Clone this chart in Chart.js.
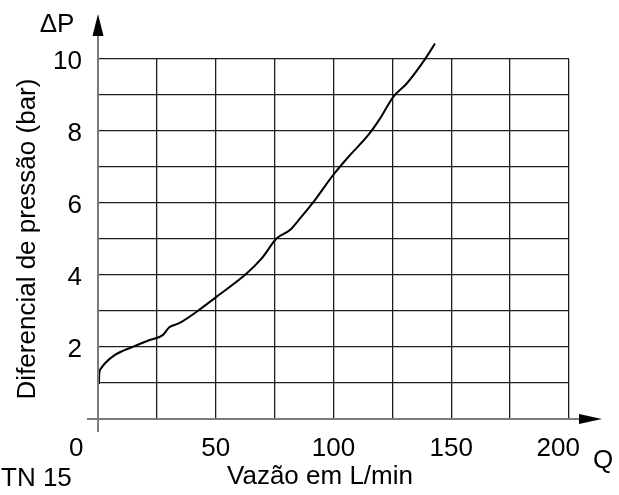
<!DOCTYPE html>
<html>
<head>
<meta charset="utf-8">
<title>Diferencial de pressão x Vazão</title>
<script src="https://cdn.jsdelivr.net/npm/chart.js@4/dist/chart.umd.min.js"></script>
<style>
  html, body { margin: 0; padding: 0; background: #fff; }
  #chartPressure { display: block; }
</style>
</head>
<body>
<canvas id="chartPressure" width="619" height="495"></canvas>
<script>
// Curve: flow (L/min) vs pressure drop (bar)
const flowValues = [0.4, 0.5, 1.2, 3.0, 7.2, 15.0, 21.4, 27.5, 30.3, 33.7, 35.5, 41.9, 50.4,
  63.1, 69.5, 75.9, 81.5, 85.8, 92.1, 99.9, 107.0, 114.8, 119.6, 125.4, 131.1, 138.8, 143.1];
const pressureValues = [0.97, 1.22, 1.40, 1.55, 1.78, 2.01, 2.18, 2.33, 2.55, 2.64, 2.70, 2.98, 3.40,
  4.04, 4.46, 5.02, 5.25, 5.57, 6.08, 6.78, 7.33, 7.89, 8.33, 8.95, 9.32, 9.99, 10.43];

const xTickLabels = [0, 50, 100, 150, 200];
const yTickLabels = [2, 4, 6, 8, 10];

const FONT = { family: '"Liberation Sans", Arial, Helvetica, sans-serif', size: 26 };
const GRID_COLOR = '#1e1e1e';
const AXIS_COLOR = '#7a7a7a';

// the sheet nudges the end labels left of their grid lines (trailing spaces do it)
function xLabel(v) {
  if (!xTickLabels.includes(v)) return '';
  if (v === 0) return '0      ';
  if (v === 200) return '200   ';
  return String(v);
}

// Axes with arrowheads + the loose labels (ΔP, Q, TN 15, x title)
const sheetDecor = {
  id: 'sheetDecor',
  afterDatasetsDraw(chart) {
    const { ctx, scales: { x, y } } = chart;
    const x0 = x.getPixelForValue(0);
    const y0 = y.getPixelForValue(0);
    const xEnd = x.getPixelForValue(200);

    ctx.save();
    ctx.strokeStyle = AXIS_COLOR;
    ctx.fillStyle = '#000';
    ctx.lineWidth = 2;

    ctx.beginPath();
    ctx.moveTo(x0, y0 + 13);
    ctx.lineTo(x0, 30);
    ctx.moveTo(x0 - 11, y0);
    ctx.lineTo(xEnd + 14, y0);
    ctx.stroke();

    // arrow heads
    ctx.beginPath();
    ctx.moveTo(x0, 14);
    ctx.lineTo(x0 - 5.5, 36);
    ctx.lineTo(x0 + 5.5, 36);
    ctx.closePath();
    ctx.fill();
    ctx.beginPath();
    ctx.moveTo(xEnd + 33, y0);
    ctx.lineTo(xEnd + 10, y0 - 5);
    ctx.lineTo(xEnd + 10, y0 + 5);
    ctx.closePath();
    ctx.fill();

    ctx.font = `${FONT.size}px ${FONT.family}`;
    ctx.textBaseline = 'middle';
    ctx.textAlign = 'center';
    ctx.fillText('ΔP', 57, 25);
    ctx.fillText('Q', 603, 461);
    ctx.fillText('Vazão em L/min', 320, 477);
    ctx.textAlign = 'left';
    ctx.fillText('TN 15', 1, 479);
    ctx.restore();
  },
};

function renderChart() {
  const points = flowValues.map((q, i) => ({ x: q, y: pressureValues[i] }));

  new Chart(document.getElementById('chartPressure'), {
    type: 'line',
    data: {
      datasets: [{
        label: 'ΔP',
        data: points,
        borderColor: '#000',
        borderWidth: 2,
        pointRadius: 0,
        fill: false,
        cubicInterpolationMode: 'monotone',
        clip: false,
      }],
    },
    options: {
      responsive: false,
      animation: false,
      devicePixelRatio: 1,
      layout: { padding: { top: 59, right: 50, left: 0, bottom: 0 } },
      plugins: { legend: { display: false }, tooltip: { enabled: false } },
      scales: {
        x: {
          type: 'linear',
          min: 0,
          max: 200,
          afterBuildTicks: (scale) => {
            scale.ticks = [];
            for (let v = 0; v <= 200; v += 25) scale.ticks.push({ value: v });
          },
          afterFit: (scale) => { scale.height = 76; },
          grid: { color: GRID_COLOR, lineWidth: 1.3, drawTicks: false },
          border: { display: false },
          ticks: {
            color: '#000',
            font: FONT,
            padding: 14,
            maxRotation: 0,
            autoSkip: false,
            callback: xLabel,
          },
        },
        y: {
          type: 'linear',
          min: 0,
          max: 10,
          afterFit: (scale) => { scale.width = 98; },
          grid: { color: GRID_COLOR, lineWidth: 1.3, drawTicks: false },
          border: { display: false },
          ticks: {
            stepSize: 1,
            color: '#000',
            font: FONT,
            padding: 16,
            labelOffset: 3,
            autoSkip: false,
            callback: (v) => (yTickLabels.includes(v) ? String(v) : ''),
          },
          title: {
            display: true,
            text: 'Diferencial de pressão (bar)',
            color: '#000',
            font: FONT,
            padding: { top: 12, bottom: 0 },
          },
        },
      },
    },
    plugins: [sheetDecor],
  });
}

renderChart();
</script>
</body>
</html>
